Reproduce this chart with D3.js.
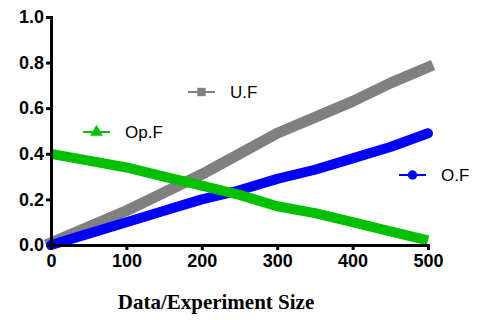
<!DOCTYPE html>
<html>
<head>
<meta charset="utf-8">
<script src="https://cdn.jsdelivr.net/npm/d3@7"></script>
<style>
  body { margin: 0; background: #fff; }
  svg text { font-family: "Liberation Sans", Arial, sans-serif; }
</style>
</head>
<body>
<div id="chart"></div>
<script>
const sizes = [0, 50, 100, 150, 200, 250, 300, 350, 400, 450, 500];
const uf  = [0.01, 0.08, 0.15, 0.23, 0.31, 0.40, 0.49, 0.56, 0.63, 0.71, 0.78];
const of  = [0.00, 0.05, 0.10, 0.15, 0.20, 0.24, 0.29, 0.33, 0.38, 0.43, 0.49];
const opf = [0.40, 0.37, 0.34, 0.30, 0.26, 0.22, 0.17, 0.14, 0.10, 0.06, 0.02];
const xTicks = [0, 100, 200, 300, 400, 500];
const yTicks = [0, 0.2, 0.4, 0.6, 0.8, 1.0];

const width = 479, height = 320;
const svg = d3.select("#chart").append("svg")
    .attr("width", width)
    .attr("height", height);

const x = d3.scaleLinear().domain([0, 500]).range([51, 428]);
const y = d3.scaleLinear().domain([0, 1]).range([245, 17]);

// series: gray squares, blue circles, green triangles
const series = [
    {name: "U.F", vals: uf, color: "#808080", cap: "square", w: 11, sym: d3.symbolSquare, lx: 188, ly: 92},
    {name: "O.F", vals: of, color: "#0000ff", cap: "round", w: 10, sym: d3.symbolCircle, lx: 399, ly: 175},
    {name: "Op.F", vals: opf, color: "#00c000", cap: "butt", w: 10, sym: d3.symbolTriangle, lx: 83, ly: 132}
];

const line = d3.line()
    .x(d => x(d[0]))
    .y(d => y(d[1]));

series.forEach(s => {
    const pts = sizes.map((v, i) => [v, s.vals[i]]);
    svg.append("path")
        .attr("d", line(pts))
        .attr("fill", "none")
        .attr("stroke", s.color)
        .attr("stroke-width", s.w)
        .attr("stroke-linecap", s.cap)
        .attr("stroke-linejoin", "round");
});

// axes
const xAxis = svg.append("g")
    .attr("transform", `translate(0,${y(0)})`)
    .call(d3.axisBottom(x).tickValues(xTicks).tickSize(5).tickPadding(4).tickFormat(d3.format("d")));
const yAxis = svg.append("g")
    .attr("transform", `translate(${x(0)},0)`)
    .call(d3.axisLeft(y).tickValues(yTicks).tickSize(5).tickPadding(2).tickFormat(d3.format(".1f")));

[xAxis, yAxis].forEach(g => {
    g.select(".domain").attr("stroke", "#000").attr("stroke-width", 3);
    g.selectAll(".tick line").attr("stroke", "#000").attr("stroke-width", 3);
    g.selectAll(".tick text")
        .attr("fill", "#000")
        .style("font-size", "18px")
        .style("font-weight", "bold");
});

// axis title
svg.append("text")
    .attr("x", 216)
    .attr("y", 309)
    .attr("text-anchor", "middle")
    .style("font-family", "'Liberation Serif', 'Times New Roman', serif")
    .style("font-weight", "bold")
    .style("font-size", "21px")
    .text("Data/Experiment Size");

// legend entries placed inside the plot
series.forEach(s => {
    const g = svg.append("g").attr("transform", `translate(${s.lx},${s.ly})`);
    g.append("line")
        .attr("x1", 0).attr("x2", 27)
        .attr("stroke", s.color)
        .attr("stroke-width", 2);
    g.append("path")
        .attr("transform", "translate(13.5,0)")
        .attr("d", d3.symbol().type(s.sym).size(70)())
        .attr("fill", s.color);
    g.append("text")
        .attr("x", 42)
        .attr("y", 6)
        .style("font-size", "17px")
        .attr("fill", "#000")
        .text(s.name);
});
</script>
</body>
</html>
